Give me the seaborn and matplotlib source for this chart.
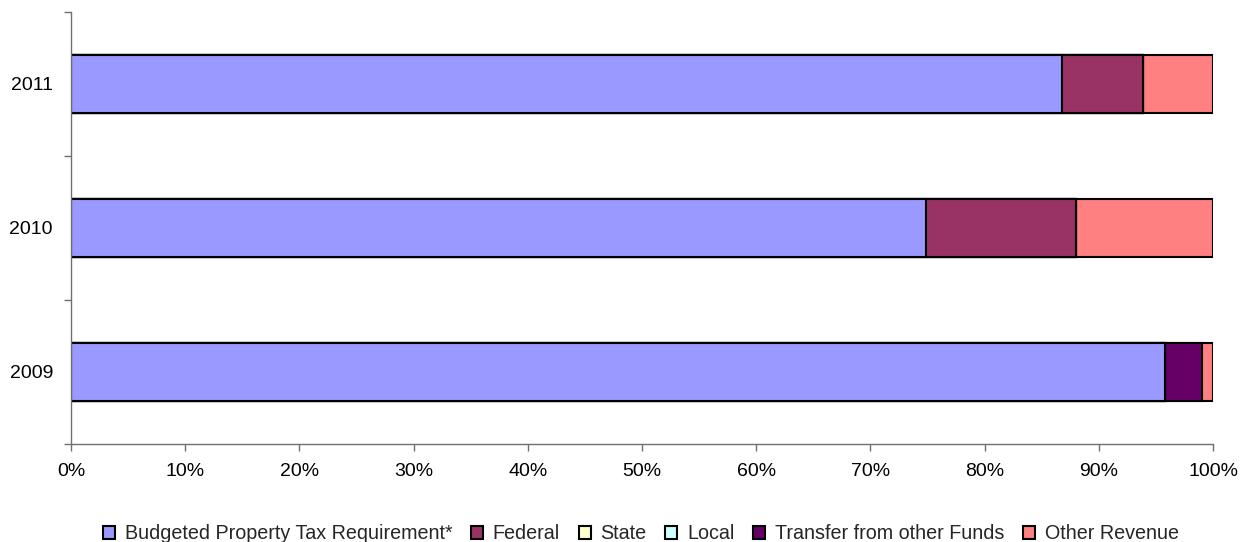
import matplotlib
matplotlib.use("Agg")
import matplotlib.pyplot as plt
from matplotlib.patches import Patch
from matplotlib.ticker import PercentFormatter, FixedLocator
import pandas as pd
import seaborn as sns

# data (share of revenue, %)
years = ["2011", "2010", "2009"]
sources = ["Budgeted Property Tax Requirement*", "Federal", "State", "Local",
           "Transfer from other Funds", "Other Revenue"]
property_tax = [86.8, 74.9, 95.8]
federal = [7.1, 13.1, 0.0]
state = [0.0, 0.0, 0.0]
local = [0.0, 0.0, 0.0]
transfer = [0.0, 0.0, 3.2]
other = [6.1, 12.0, 1.0]
colours = ["#9999FF", "#993366", "#FFFFCC", "#CCFFFF", "#660066", "#FF8080"]

sns.set_style("white")
plt.rcParams["font.family"] = ["Liberation Sans", "DejaVu Sans"]

df = pd.DataFrame({"year": years, sources[0]: property_tax, sources[1]: federal,
                   sources[2]: state, sources[3]: local, sources[4]: transfer,
                   sources[5]: other})
# running totals so every layer starts at 0 and the later ones sit underneath
cum = df[sources].cumsum(axis=1)
cum["year"] = df["year"]

fig = plt.figure(figsize=(12.42, 5.42), dpi=100)
ax = fig.add_axes([0.0572, 0.1808, 0.9195, 0.7976])

for src, col in reversed(list(zip(sources, colours))):
    sns.barplot(data=cum, x=src, y="year", order=years, color=col, saturation=1,
                edgecolor="black", linewidth=1.5, width=0.4, ax=ax, orient="h")

ax.set_xlim(0, 100)
ax.set_ylim(2.5, -0.5)
ax.set_xlabel("")
ax.set_ylabel("")
ax.xaxis.set_major_locator(FixedLocator(range(0, 101, 10)))
ax.xaxis.set_major_formatter(PercentFormatter(decimals=0))
ax.yaxis.set_minor_locator(FixedLocator([-0.5, 0.5, 1.5, 2.5]))

for s in ["top", "right"]:
    ax.spines[s].set_visible(False)
for s in ["left", "bottom"]:
    ax.spines[s].set_color("#707070")
    ax.spines[s].set_linewidth(1.0)

ax.tick_params(axis="x", which="major", length=5, width=1, color="#707070",
               direction="out", bottom=True, labelsize=14, pad=9, labelcolor="black")
ax.tick_params(axis="y", which="major", length=0, labelsize=14, pad=13, labelcolor="black")
ax.tick_params(axis="y", which="minor", length=5, width=1, color="#707070",
               direction="out", left=True)

handles = [Patch(facecolor=c, edgecolor="black", linewidth=1.5) for c in colours]
fig.legend(handles, sources, loc="lower center", bbox_to_anchor=(0.516, -0.035),
           ncol=6, frameon=False, fontsize=14.2, handlelength=0.6,
           handleheight=0.6, handletextpad=0.5, columnspacing=0.95)

fig.savefig("out.png", dpi=100)
